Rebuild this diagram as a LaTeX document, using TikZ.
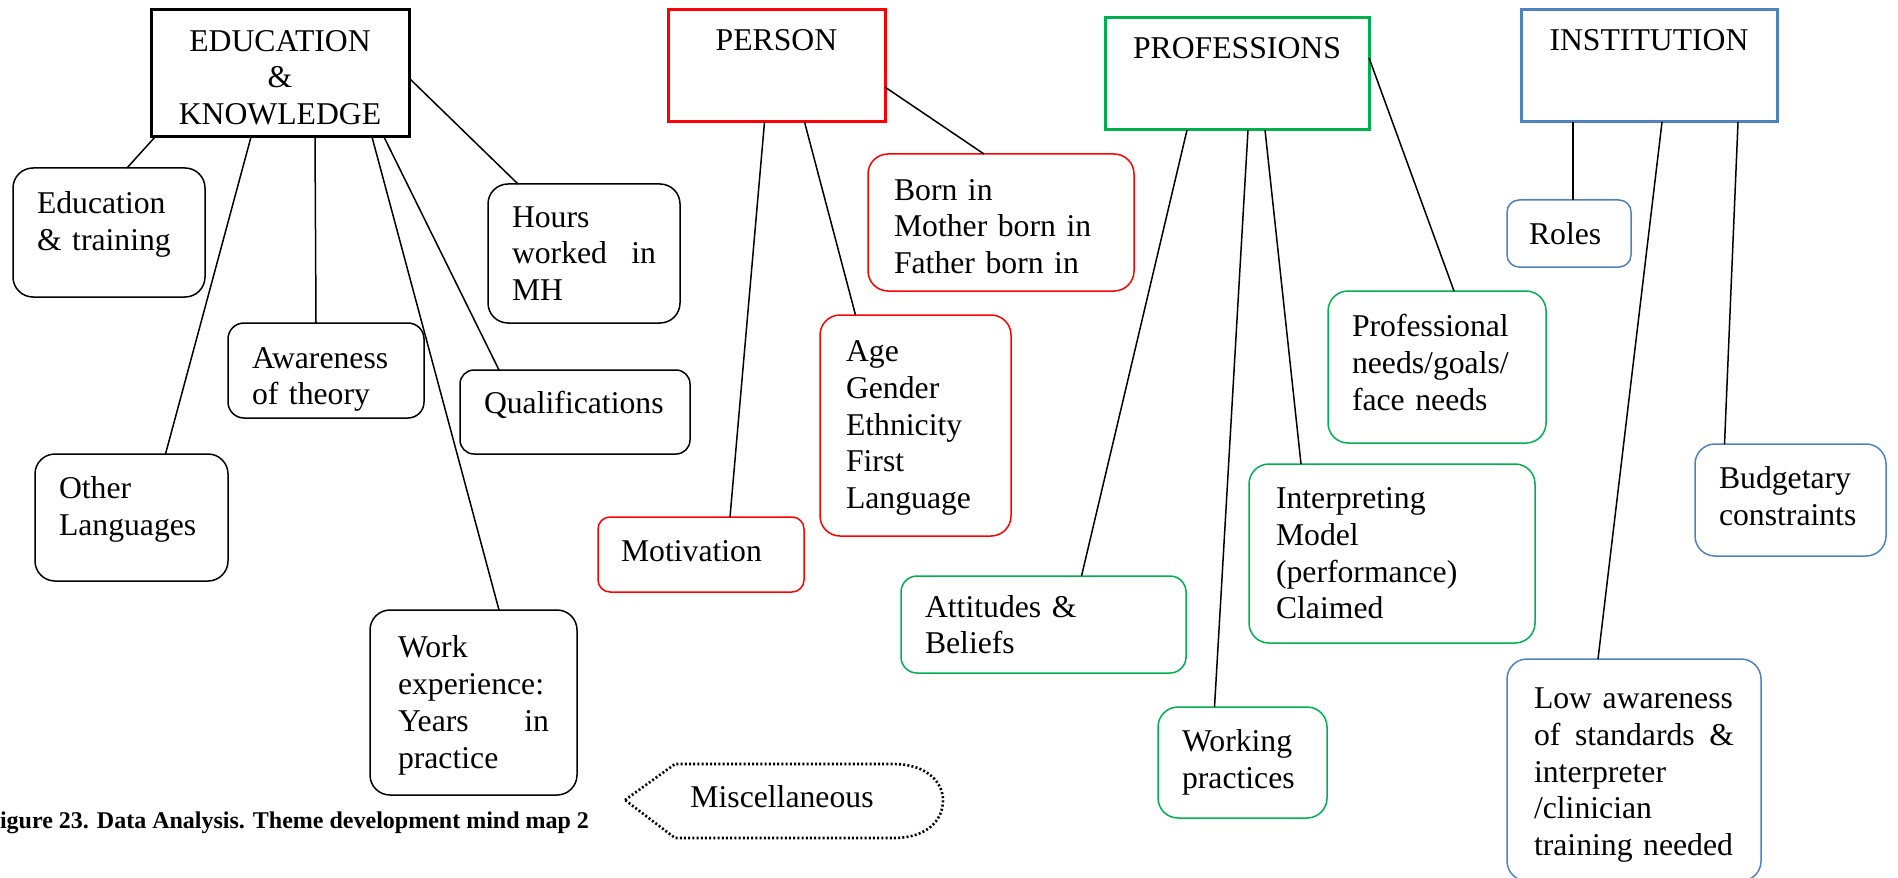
\documentclass[tikz,border=0pt]{standalone}
\usepackage{fontspec}
\setmainfont{Liberation Serif}
\usepackage{tikz}
\usetikzlibrary{positioning}

\definecolor{personred}{RGB}{255,0,0}
\definecolor{profgreen}{RGB}{0,176,80}
\definecolor{instblue}{RGB}{79,129,189}
\newcommand{\mapfont}{\fontsize{15.85}{18.35}\selectfont}

\tikzset{
  theme/.style={draw, line width=1.5pt, outer sep=0pt, inner sep=0pt, anchor=north west, font=\mapfont},
  leaf/.style={draw, line width=0.75pt, rounded corners=10pt, outer sep=0pt, inner xsep=12pt, inner ysep=1pt, anchor=north west, align=left, font=\mapfont},
  branch/.style={line width=0.75pt},
}

\begin{document}
\begin{tikzpicture}[x=0.5pt,y=0.5pt,yscale=-1,xscale=1]
\clip (0,0) rectangle (1898,877);

%Shape: Rectangle [id:edu]
\node[theme, minimum width=129pt, minimum height=63.5pt, align=center] (edu) at (151,10) {\rule{0pt}{14.5pt}EDUCATION\\\&\\KNOWLEDGE};
%Shape: Rectangle [id:pers]
\node[theme, draw=personred, minimum width=108.5pt, text height=20.5pt, text depth=35.5pt] (pers) at (668,10) {PERSON};
%Shape: Rectangle [id:prof]
\node[theme, draw=profgreen, minimum width=132pt, text height=20.5pt, text depth=35.5pt] (prof) at (1105,18) {PROFESSIONS};
%Shape: Rectangle [id:inst]
\node[theme, draw=instblue, minimum width=128pt, text height=20.5pt, text depth=35.5pt] (inst) at (1521,10) {INSTITUTION};

%Rounded Rect: education & knowledge
\node[leaf, minimum width=96pt, minimum height=64.5pt, text width=72pt] (edtr) at (13,168) {Education\\\& training\\[-6.65pt]\mbox{}};
\node[leaf, minimum width=96pt, minimum height=69.5pt, text width=72pt] (hrs) at (488,184) {Hours\\worked\hfill in\\MH};
\node[leaf, rounded corners=8pt, minimum width=98pt, minimum height=47.5pt, text width=74pt] (awr) at (228,323) {\rule{0pt}{19.35pt}Awareness\\of theory};
\node[leaf, rounded corners=7pt, minimum width=115pt, minimum height=42pt, text width=91pt] (qual) at (460,370) {Qualifications\\[-8.85pt]\mbox{}};
\node[leaf, minimum width=96.5pt, minimum height=63.5pt, text width=72.5pt] (olang) at (35,454) {Other\\Languages\\[-6.65pt]\mbox{}};
\node[leaf, inner xsep=14pt, minimum width=103.5pt, minimum height=92.5pt, text width=75.5pt] (wexp) at (370,610) {\rule{0pt}{13.85pt}Work\\experience:\\Years\hfill in\\practice};

%Rounded Rect: person
\node[leaf, draw=personred, inner xsep=13pt, minimum width=133pt, minimum height=68.5pt, text width=107pt] (born) at (868,154) {\rule{0pt}{14.45pt}Born in\\Mother born in\\Father born in};
\node[leaf, draw=personred, inner xsep=13pt, minimum width=95.5pt, minimum height=110.5pt, text width=69.5pt] (age) at (820,315) {\rule{0pt}{13.2pt}Age\\Gender\\Ethnicity\\First\\Language};
\node[leaf, draw=personred, rounded corners=6pt, inner xsep=11.5pt, minimum width=103pt, minimum height=37.5pt, text width=80pt] (motiv) at (598,517) {Motivation\\[-14.75pt]\mbox{}};

%Rounded Rect: professions
\node[leaf, draw=profgreen, minimum width=109pt, minimum height=76pt, text width=85pt] (pneeds) at (1328,291) {Professional\\needs/goals/\\face needs\\[-13.55pt]\mbox{}};
\node[leaf, draw=profgreen, inner xsep=13.5pt, minimum width=143pt, minimum height=89.5pt, text width=116pt] (imodel) at (1249,464) {Interpreting\\Model\\(performance)\\Claimed};
\node[leaf, draw=profgreen, rounded corners=8pt, minimum width=142.5pt, minimum height=48.5pt, text width=118.5pt] (attit) at (901,576) {Attitudes \&\\Beliefs};
\node[leaf, draw=profgreen, minimum width=84.5pt, minimum height=55.5pt, text width=60.5pt] (workp) at (1158,707) {Working\\practices};

%Rounded Rect: institution
\node[leaf, draw=instblue, rounded corners=6pt, inner xsep=11pt, minimum width=62pt, minimum height=33.5pt, text width=40pt] (roles) at (1507,200) {Roles};
\node[leaf, draw=instblue, minimum width=95.5pt, minimum height=56pt, text width=71.5pt] (budg) at (1695,444) {Budgetary\\constraints\\[-14.15pt]\mbox{}};
\node[leaf, draw=instblue, inner xsep=13.5pt, minimum width=127pt, minimum height=111pt, text width=100pt] (lowaw) at (1507,659) {\rule{0pt}{15.65pt}Low awareness\\of \hfill standards \hfill \&\\interpreter\\/clinician\\training needed};

%Straight Lines
\draw[branch] ([xshift=2pt]edu.south west) -- ([xshift=9pt]edtr.north);
\draw[branch] ([xshift=-14.5pt]edu.south) -- ([xshift=17pt]olang.north);
\draw[branch] ([xshift=17.5pt]edu.south) -- ([xshift=-5pt]awr.north);
\draw[branch] ([xshift=46pt]edu.south) -- ([xshift=12.75pt]wexp.north);
\draw[branch] ([xshift=52pt]edu.south) -- ([xshift=-38pt]qual.north);
\draw[branch] (edu.-2) -- ([xshift=-33pt]hrs.north);

\draw[branch] (pers.-11) -- ([xshift=-8.5pt]born.north);
\draw[branch] ([xshift=14pt]pers.south) -- ([xshift=-30pt]age.north);
\draw[branch] ([xshift=-6pt]pers.south) -- ([xshift=14.5pt]motiv.north);

\draw[branch] (prof.7) -- ([xshift=8.5pt]pneeds.north);
\draw[branch] ([xshift=14pt]prof.south) -- ([xshift=-45.5pt]imodel.north);
\draw[branch] ([xshift=5.5pt]prof.south) -- ([xshift=-14pt]workp.north);
\draw[branch] ([xshift=-25pt]prof.south) -- ([xshift=19pt]attit.north);

\draw[branch] ([xshift=-38pt]inst.south) -- ([xshift=2pt]roles.north);
\draw[branch] ([xshift=6.5pt]inst.south) -- ([xshift=-18pt]lowaw.north);
\draw[branch] ([xshift=44.5pt]inst.south) -- ([xshift=-33pt]budg.north);

%Shape: Polygon Curved [id:misc]
\draw[line width=1.3pt, dash pattern=on 1pt off 1.1pt] (625,800) -- (675,764) -- (893,764) .. controls (930,764) and (943,785) .. (943,800) .. controls (943,818) and (930,838) .. (893,838) -- (675,838) -- cycle ;
% Text Node
\node[font=\mapfont] (misc) at (782,797) {Miscellaneous};

% Text Node
\node[anchor=base west, inner sep=0pt, font=\bfseries\fontsize{12}{14}\selectfont] (cap) at (-15,828) {Figure 23. Data Analysis. Theme development mind map 2};

\end{tikzpicture}
\end{document}
